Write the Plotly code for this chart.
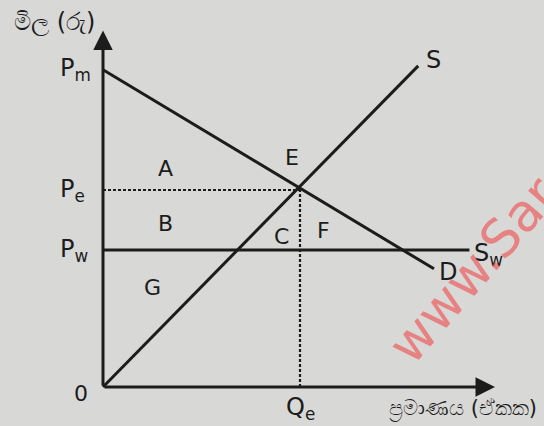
import plotly.graph_objects as go

# ---- data (economic units) ----
price_labels = ["P<sub>m</sub>", "P<sub>e</sub>", "P<sub>w</sub>"]
price_values = [16.1, 10.0, 6.95]          # Pm, Pe, Pw
q_equilibrium = 10.0                        # Qe
supply_q = [0.0, 16.0]
supply_p = [0.0, 16.3]
demand_q = [0.0, 16.8]
demand_p = [16.1, 6.0]
world_q = [0.0, 18.6]
world_p = [6.95, 6.95]
area_labels = ["A", "B", "C", "E", "F", "G"]
x_axis_max = 19.9
y_axis_max = 18.1

# ---- layout mapping ----
W, H = 544, 426
SCALE = 19.7
OX, OY = 103, 387

def px(x, y):
    return (x - OX) / SCALE, (OY - y) / SCALE

LINE = "#1c1c1c"
FONT = "DejaVu Sans"

fig = go.Figure()
fig.add_trace(go.Scatter(x=supply_q, y=supply_p, mode="lines",
                         line=dict(color=LINE, width=3), hoverinfo="skip"))
fig.add_trace(go.Scatter(x=demand_q, y=demand_p, mode="lines",
                         line=dict(color=LINE, width=3), hoverinfo="skip"))
fig.add_trace(go.Scatter(x=world_q, y=world_p, mode="lines",
                         line=dict(color=LINE, width=3), hoverinfo="skip"))
fig.add_trace(go.Scatter(x=[0, q_equilibrium], y=[price_values[1], price_values[1]],
                         mode="lines", line=dict(color=LINE, width=2.2, dash="3px,2px"),
                         hoverinfo="skip"))
fig.add_trace(go.Scatter(x=[q_equilibrium, q_equilibrium], y=[0, price_values[1]],
                         mode="lines", line=dict(color=LINE, width=2.2, dash="3px,2px"),
                         hoverinfo="skip"))

ann = []
# axes with arrows
ann.append(dict(x=0, y=y_axis_max, ax=0, ay=0, xref="x", yref="y", axref="x", ayref="y",
                showarrow=True, arrowhead=2, arrowsize=1.3, arrowwidth=3, arrowcolor=LINE, text=""))
ann.append(dict(x=x_axis_max, y=0, ax=0, ay=0, xref="x", yref="y", axref="x", ayref="y",
                showarrow=True, arrowhead=2, arrowsize=1.3, arrowwidth=3, arrowcolor=LINE, text=""))

def label(text, x, y, size=24, xanchor="center"):
    ann.append(dict(x=x, y=y, text=text, showarrow=False, xref="x", yref="y",
                    xanchor=xanchor, yanchor="middle",
                    font=dict(family=FONT, size=size, color=LINE)))

# price labels
for t, v in zip(price_labels, price_values):
    label(t, px(58, 0)[0], v + 0.0, size=24, xanchor="left")
label("0", *px(81, 393), size=22)
label("Q<sub>e</sub>", q_equilibrium, px(0, 408)[1], size=24)
label("S", *px(433, 60), size=24)
label("D", *px(448, 272), size=24)
label("S<sub>w</sub>", *px(488, 254), size=24)

area_pos = {"A": (165, 168), "B": (165, 223), "C": (281, 236),
            "E": (292, 157), "F": (323, 230), "G": (152, 287)}
for a in area_labels:
    label(a, *px(*area_pos[a]), size=22)

# axis titles (Sinhala)
label("මිල (රු)", *px(54, 22), size=24)
label("ප්‍රමාණය (ඒකක)", *px(463, 409), size=21)

# watermark
wx, wy = px(473, 270)
ann.append(dict(x=wx, y=wy, text="www.Sar", showarrow=False,
                xref="x", yref="y", textangle=-49,
                font=dict(family=FONT, size=52,
                          color="rgba(240,85,85,0.65)")))

fig.update_layout(
    width=W, height=H,
    margin=dict(l=0, r=0, t=0, b=0),
    paper_bgcolor="#d8d8d6", plot_bgcolor="#d8d8d6",
    showlegend=False,
    xaxis=dict(range=[-OX / SCALE, (W - OX) / SCALE], visible=False, fixedrange=True),
    yaxis=dict(range=[(OY - H) / SCALE, OY / SCALE], visible=False, fixedrange=True),
    annotations=ann,
)

fig.write_html("out.html", config={"displayModeBar": False},
               post_script="document.body.style.margin='0';document.body.style.overflow='hidden';")
